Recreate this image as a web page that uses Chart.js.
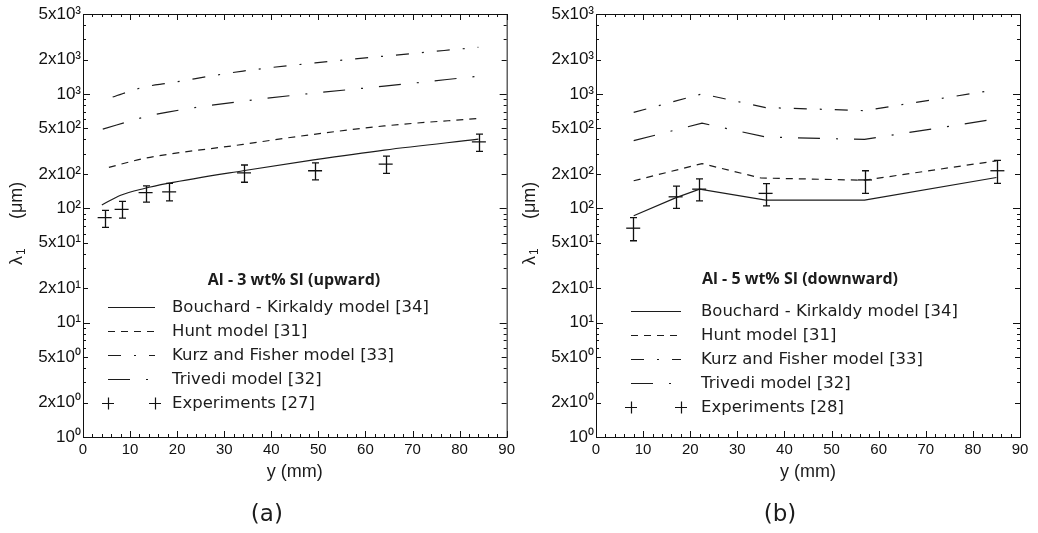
<!DOCTYPE html>
<html>
<head>
<meta charset="utf-8">
<script src="https://cdn.jsdelivr.net/npm/chart.js@4.4.1/dist/chart.umd.min.js"></script>
<style>
  html, body { margin: 0; padding: 0; background: #fff; }
  #wrap { position: relative; width: 1038px; height: 533px; }
  .panel { position: absolute; top: 0; width: 519px; height: 533px; }
</style>
</head>
<body>
<div id="wrap">
  <div class="panel" style="left:0"><canvas id="chartA" width="519" height="533"></canvas></div>
  <div class="panel" style="left:519px"><canvas id="chartB" width="519" height="533"></canvas></div>
</div>
<script>
// (a) Al - 3 wt% Si, upward growth
const bouchardAX = [4, 8, 13, 18, 34, 49, 64, 84];
const bouchardAY = [107, 130, 149, 165, 213, 265, 323, 402];
const huntAX = [5.5, 13, 18, 34, 44, 64, 84];
const huntAY = [228, 273, 296, 362, 416, 525, 610];
const kurzAX = [6.3, 13, 18, 34, 53, 64, 84];
const kurzAY = [940, 1150, 1240, 1585, 1936, 2140, 2560];
const trivediAX = [4.2, 13, 18, 34, 49, 64, 84];
const trivediAY = [492, 627, 694, 865, 1016, 1170, 1430];
const expAX = [4.6, 8.2, 13.3, 18.3, 34.2, 49.3, 64.3, 84.1];
const expAY = [83, 98, 137, 139, 204, 213, 243, 381];
const expALow = [68, 82, 113, 116, 169, 177, 202, 314];
const expAHigh = [96, 115, 157, 165, 239, 250, 286, 445];

// (b) Al - 5 wt% Si, downward growth
const bouchardBX = [8, 17, 22, 36, 57, 85];
const bouchardBY = [86, 124, 147, 118, 118, 186];
const huntBX = [8, 22.5, 35, 57, 85];
const huntBY = [174, 246, 184, 176, 260];
const kurzBX = [8, 22.5, 36, 57, 85];
const kurzBY = [690, 1000, 760, 715, 1090];
const trivediBX = [8, 22.5, 36, 57, 85];
const trivediBY = [390, 555, 420, 400, 605];
const expBX = [7.9, 16.9, 21.9, 36, 57.1, 85.2];
const expBY = [67, 126, 147, 135, 177, 213];
const expBLow = [52, 100, 116, 105, 135, 165];
const expBHigh = [83, 156, 181, 164, 213, 262];

const INK = '#1c1c1c';
const sup = ['\u2070', '\u00b9', '\u00b2', '\u00b3'];

function pts(xs, ys) {
  return xs.map((x, i) => ({ x: x, y: ys[i] }));
}

// decade mantissa of a log tick value
function mantissa(v) {
  const e = Math.floor(Math.log10(v) + 1e-9);
  return { e: e, k: Math.round(v / Math.pow(10, e)) };
}

function logLabel(v) {
  const m = mantissa(v);
  if (m.k === 1) return '10' + sup[m.e];
  if (m.k === 2 || m.k === 5) return m.k + 'x10' + sup[m.e];
  return '';
}

// error bars for the experiment series
const errorBars = {
  id: 'errorBars',
  afterDatasetsDraw(chart) {
    const ctx = chart.ctx;
    const { x, y } = chart.scales;
    chart.data.datasets.forEach(ds => {
      if (!ds.errLow) return;
      ctx.save();
      ctx.strokeStyle = ds.borderColor;
      ctx.lineWidth = 1.3;
      ds.data.forEach((p, i) => {
        const px = Math.round(x.getPixelForValue(p.x)) + 0.5;
        const top = y.getPixelForValue(ds.errHigh[i]);
        const bot = y.getPixelForValue(ds.errLow[i]);
        ctx.beginPath();
        ctx.moveTo(px, top); ctx.lineTo(px, bot);
        ctx.moveTo(px - 3.5, top); ctx.lineTo(px + 3.5, top);
        ctx.moveTo(px - 3.5, bot); ctx.lineTo(px + 3.5, bot);
        ctx.stroke();
      });
      ctx.restore();
    });
  }
};

// box frame with inward ticks on all four sides
const frameTicks = {
  id: 'frameTicks',
  afterDatasetsDraw(chart) {
    const { ctx, chartArea: a } = chart;
    const { x, y } = chart.scales;
    ctx.save();
    ctx.strokeStyle = '#111';
    ctx.lineWidth = 1;
    ctx.strokeRect(a.left + 0.5, a.top + 0.5, a.right - a.left, a.bottom - a.top);
    ctx.beginPath();
    y.ticks.forEach(t => {
      const py = Math.round(y.getPixelForValue(t.value)) + 0.5;
      const k = mantissa(t.value).k;
      const len = k === 1 ? 7 : (k === 2 || k === 5 ? 5 : 3);
      ctx.moveTo(a.left, py); ctx.lineTo(a.left + len, py);
      ctx.moveTo(a.right, py); ctx.lineTo(a.right - len, py);
    });
    for (let v = x.min; v <= x.max; v += 2) {
      const px = Math.round(x.getPixelForValue(v)) + 0.5;
      const len = v % 10 === 0 ? 6 : 3;
      ctx.moveTo(px, a.bottom); ctx.lineTo(px, a.bottom - len);
      ctx.moveTo(px, a.top); ctx.lineTo(px, a.top + len);
    }
    ctx.stroke();
    ctx.restore();
  }
};

// legend block inside the plot
const insideLegend = {
  id: 'insideLegend',
  afterDraw(chart, args, opts) {
    const ctx = chart.ctx;
    ctx.save();
    ctx.fillStyle = INK;
    ctx.textBaseline = 'middle';
    ctx.textAlign = 'center';
    ctx.font = 'bold 16px "Open Sans"';
    ctx.fillText(opts.title, opts.titleX, opts.titleY);
    ctx.textAlign = 'left';
    ctx.font = '16.5px "DejaVu Sans"';
    chart.data.datasets.forEach((ds, i) => {
      const yy = Math.round(opts.rowY + i * opts.rowH) + 0.5;
      ctx.strokeStyle = ds.borderColor;
      ctx.lineWidth = ds.errLow ? 1.2 : ds.borderWidth;
      ctx.beginPath();
      if (ds.errLow) {
        [opts.x0, opts.x1].forEach(cx => {
          ctx.moveTo(cx - 6, yy); ctx.lineTo(cx + 6, yy);
          ctx.moveTo(cx + 0.5, yy - 6); ctx.lineTo(cx + 0.5, yy + 6);
        });
        ctx.setLineDash([]);
      } else {
        ctx.setLineDash(ds.borderDash || []);
        ctx.moveTo(opts.x0, yy); ctx.lineTo(opts.x1, yy);
      }
      ctx.stroke();
      ctx.fillText(ds.label, opts.textX, yy);
    });
    ctx.restore();
  }
};

// axis titles and the panel caption
const panelText = {
  id: 'panelText',
  afterDraw(chart, args, opts) {
    const { ctx, chartArea: a } = chart;
    const cx = (a.left + a.right) / 2;
    ctx.save();
    ctx.fillStyle = INK;
    ctx.textAlign = 'center';
    ctx.textBaseline = 'middle';
    ctx.font = '18px "Liberation Sans"';
    ctx.fillText('y (mm)', cx, 472);
    ctx.font = '23px "DejaVu Sans"';
    ctx.fillText(opts.caption, cx - 28, 515);
    // rotated y title: lambda with subscript 1, then unit
    ctx.translate(opts.yTitleX, opts.yTitleY);
    ctx.rotate(-Math.PI / 2);
    ctx.textAlign = 'left';
    ctx.font = '18px "Liberation Sans"';
    ctx.fillText('\u03bb', -44, 0);
    ctx.font = '12px "Liberation Sans"';
    ctx.fillText('1', -34, 5);
    ctx.font = '18px "Liberation Sans"';
    ctx.fillText('(\u03bcm)', 2, 0);
    ctx.restore();
  }
};

function makeChart(id, sets, panel) {
  const lineBase = { showLine: true, pointRadius: 0, borderColor: INK, borderWidth: 1.2, fill: false,
    cubicInterpolationMode: panel.smooth ? 'monotone' : 'default', tension: 0 };
  return new Chart(document.getElementById(id), {
    type: 'scatter',
    data: {
      datasets: [
        Object.assign({ label: 'Bouchard - Kirkaldy model [34]', data: sets.bouchard }, lineBase),
        Object.assign({ label: 'Hunt model [31]', data: sets.hunt, borderDash: [7, 6] }, lineBase),
        Object.assign({ label: 'Kurz and Fisher model [33]', data: sets.kurz, borderDash: [13, 13, 2, 13] }, lineBase),
        Object.assign({ label: 'Trivedi model [32]', data: sets.trivedi, borderDash: [22, 16, 2, 16] }, lineBase),
        {
          label: panel.expLabel, data: sets.exp, showLine: false,
          pointStyle: 'line', pointRadius: 7, pointBorderWidth: 1.3,
          borderColor: '#111', backgroundColor: '#111',
          errLow: sets.low, errHigh: sets.high
        }
      ]
    },
    options: {
      responsive: false,
      animation: false,
      layout: { padding: { left: 0, right: panel.padRight, top: 14, bottom: 0 } },
      scales: {
        x: {
          type: 'linear', min: 0, max: 90,
          grid: { display: false, drawTicks: false },
          border: { display: false },
          ticks: { stepSize: 10, padding: 4, color: '#111', font: { family: '"Liberation Sans"', size: 15 } },
          afterFit: s => { s.height = 96; }
        },
        y: {
          type: 'logarithmic', min: 1, max: 5000,
          grid: { display: false, drawTicks: false },
          border: { display: false },
          afterBuildTicks: s => {
            const ticks = [];
            for (let e = 0; e <= 3; e++) {
              for (let k = 1; k <= 9; k++) {
                if (k * Math.pow(10, e) <= 5000) ticks.push({ value: k * Math.pow(10, e) });
              }
            }
            s.ticks = ticks;
          },
          ticks: { autoSkip: false, padding: 2, color: '#111', font: { family: '"Liberation Sans"', size: 17 },
            callback: v => logLabel(v) },
          afterFit: s => { s.width = panel.axisWidth; }
        }
      },
      plugins: {
        legend: { display: false },
        tooltip: { enabled: false },
        insideLegend: panel.legend,
        panelText: { caption: panel.caption, yTitleX: panel.yTitleX, yTitleY: 221 }
      }
    },
    plugins: [errorBars, frameTicks, insideLegend, panelText]
  });
}

makeChart('chartA', {
  bouchard: pts(bouchardAX, bouchardAY),
  hunt: pts(huntAX, huntAY),
  kurz: pts(kurzAX, kurzAY),
  trivedi: pts(trivediAX, trivediAY),
  exp: pts(expAX, expAY), low: expALow, high: expAHigh
}, {
  smooth: true, padRight: 12, axisWidth: 83, yTitleX: 17, caption: '(a)',
  expLabel: 'Experiments [27]',
  legend: { title: 'Al - 3 wt% SI (upward)', titleX: 294, titleY: 280, x0: 108, x1: 155, textX: 172, rowY: 307, rowH: 24 }
});

makeChart('chartB', {
  bouchard: pts(bouchardBX, bouchardBY),
  hunt: pts(huntBX, huntBY),
  kurz: pts(kurzBX, kurzBY),
  trivedi: pts(trivediBX, trivediBY),
  exp: pts(expBX, expBY), low: expBLow, high: expBHigh
}, {
  smooth: false, padRight: 18, axisWidth: 77, yTitleX: 11, caption: '(b)',
  expLabel: 'Experiments [28]',
  legend: { title: 'Al - 5 wt% SI (downward)', titleX: 281, titleY: 279, x0: 112, x1: 162, textX: 182, rowY: 311, rowH: 24 }
});
</script>
</body>
</html>
